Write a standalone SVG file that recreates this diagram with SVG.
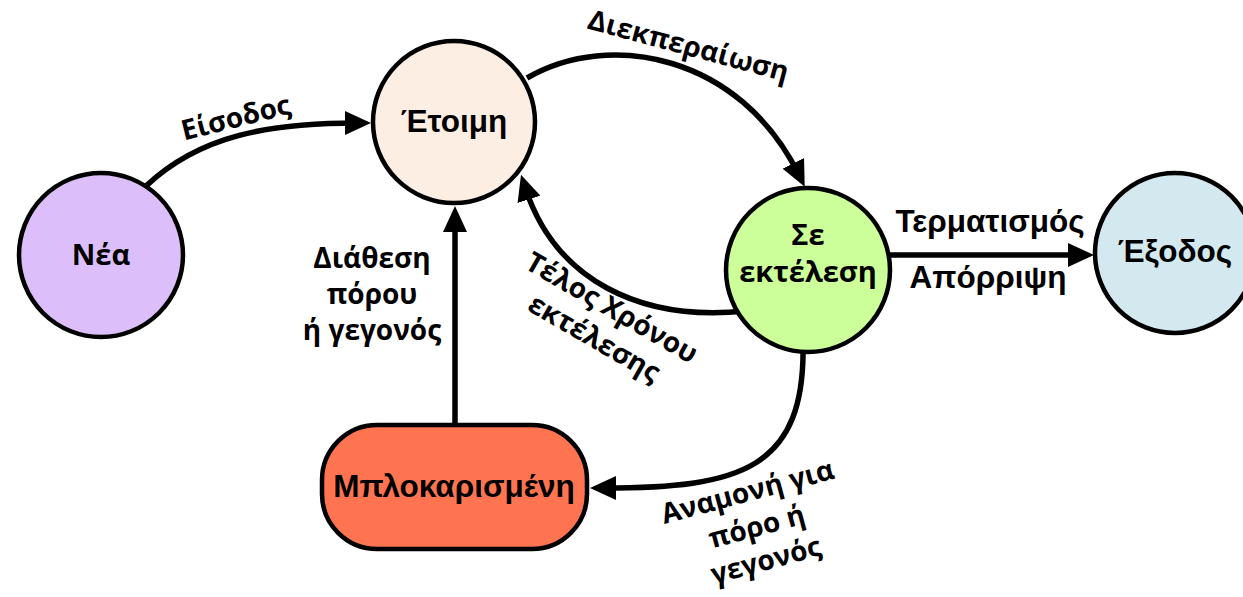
<svg xmlns="http://www.w3.org/2000/svg" width="1243" height="597" viewBox="0 0 1243 597">
  <style>
    .node { stroke: #000; stroke-width: 4.5; }
    .edge { fill: none; stroke: #000; stroke-width: 5.5; marker-end: url(#arrow); }
    .arial { font-family: "Liberation Sans", Arial, sans-serif; font-weight: bold; font-size: 31.5px; fill: #000; text-anchor: middle; }
    .open { font-family: "Open Sans", "Noto Sans", sans-serif; font-weight: 700; font-size: 29px; fill: #000; text-anchor: middle; }
    .lbl { font-family: "Open Sans", "Noto Sans", sans-serif; font-weight: 700; font-size: 28px; fill: #000; text-anchor: middle; }
  </style>
  <defs>
    <marker id="arrow" viewBox="0 0 26 24" refX="13" refY="12" markerWidth="26" markerHeight="24" markerUnits="userSpaceOnUse" orient="auto">
      <path d="M0,0 L26,12 L0,24 z" fill="#000"/>
    </marker>
  </defs>

  <rect width="1243" height="597" fill="#fff"/>

  <!-- transitions -->
  <g id="connectors">
    <path class="edge" d="M146,186 C200,135 270,123 358,123"/>
    <path class="edge" d="M527,78 C610,30 740,55 799,175"/>
    <path class="edge" d="M746,311 C640,322 555,280 525,187"/>
    <path class="edge" d="M803,342 C806,470 740,488 603,488"/>
    <path class="edge" d="M455,425 L455,219"/>
    <path class="edge" d="M890,255 L1081,255"/>

    <text class="lbl" transform="translate(238,127) rotate(-14)">Είσοδος</text>
    <text class="lbl" transform="translate(686,55) rotate(15)">Διεκπεραίωση</text>
    <g transform="translate(607,316) rotate(30)">
      <text class="lbl" x="0" y="0">Τέλος Χρόνου</text>
      <text class="lbl" x="0" y="35">εκτέλεσης</text>
    </g>
    <g transform="translate(750,501) rotate(-15)">
      <text class="lbl" x="0" y="0">Αναμονή για</text>
      <text class="lbl" x="0" y="36">πόρο ή</text>
      <text class="lbl" x="0" y="71">γεγονός</text>
    </g>
    <text class="lbl" x="372" y="268">Διάθεση</text>
    <text class="lbl" x="372" y="304">πόρου</text>
    <text class="lbl" x="372" y="340">ή γεγονός</text>
    <text class="arial" x="990" y="232">Τερματισμός</text>
    <text class="arial" x="988" y="288">Απόρριψη</text>
  </g>

  <g id="new">
    <circle class="node" cx="101" cy="255" r="82" fill="#DCBFFA"/>
    <text class="open" x="101" y="265">Νέα</text>
  </g>

  <g id="ready">
    <circle class="node" cx="454" cy="122" r="81" fill="#FDEEE3"/>
    <text class="arial" x="454" y="132">Έτοιμη</text>
  </g>

  <g id="running">
    <circle class="node" cx="808" cy="270" r="82" fill="#CCFF99"/>
    <text class="open" x="808" y="245">Σε</text>
    <text class="open" x="808" y="282">εκτέλεση</text>
  </g>

  <g id="exit">
    <circle class="node" cx="1175" cy="253" r="80" fill="#D3E9EF"/>
    <text class="arial" x="1175" y="262">Έξοδος</text>
  </g>

  <g id="blocked">
    <rect class="node" x="322" y="425" width="265" height="124" rx="55" ry="55" fill="#FF7450"/>
    <text class="arial" x="454" y="497">Μπλοκαρισμένη</text>
  </g>
</svg>
